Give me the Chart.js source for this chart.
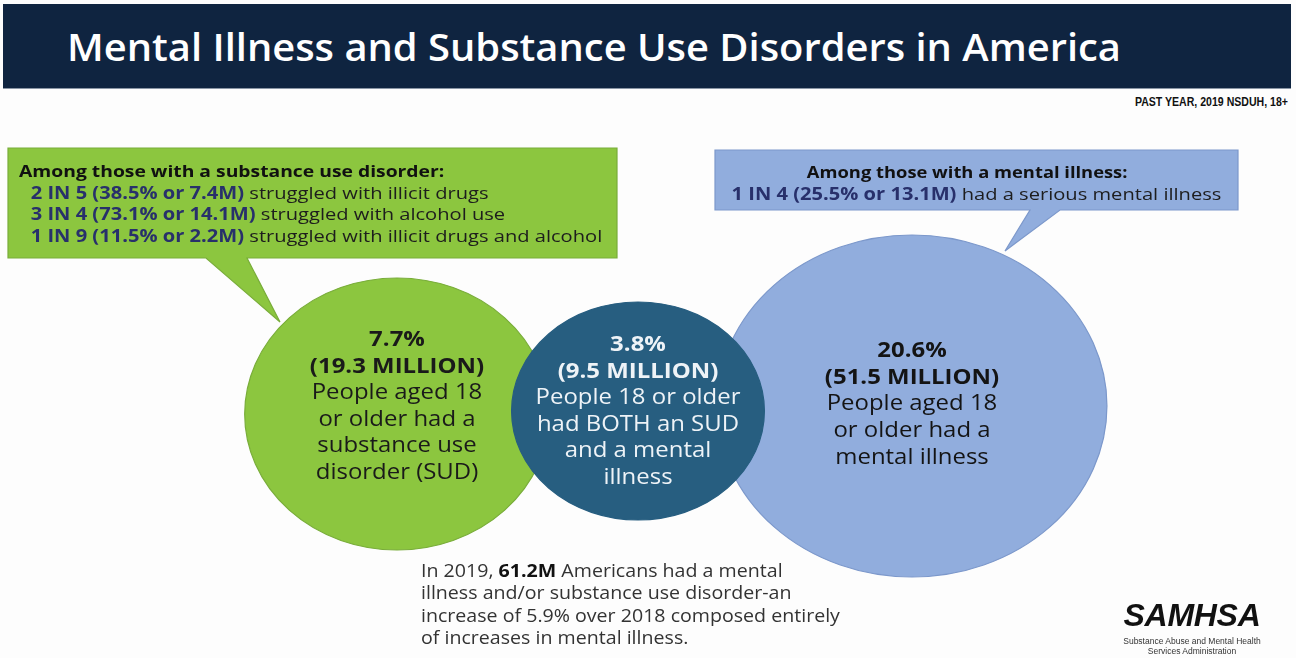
<!DOCTYPE html>
<html>
<head>
<meta charset="utf-8">
<title>Mental Illness and Substance Use Disorders in America</title>
<script src="https://cdn.jsdelivr.net/npm/chart.js@4"></script>
<style>
  html, body { margin: 0; padding: 0; background: #fdfdfd; }
  body { width: 1296px; height: 658px; position: relative; overflow: hidden; font-family: "Open Sans", "Noto Sans", sans-serif; }
  #header { position: absolute; left: 3px; top: 4px; width: 1288px; height: 84px; background: #0f2440; border-bottom: 1px solid #8a96a6; }
  #header h1 { margin: 0; position: absolute; left: 64px; top: 19px; color: #fff; font-weight: 600; font-size: 37px; line-height: 48px;
               transform: scaleX(1.078); transform-origin: left center; white-space: nowrap; }
  #source { position: absolute; right: 8px; top: 95px; font-family: "Liberation Sans Narrow", "Liberation Sans", Arial, sans-serif; font-weight: 700; font-size: 12px; color: #111;
            transform: scaleX(0.88); transform-origin: right center; white-space: nowrap; }
  #shapes { position: absolute; left: 0; top: 0; }
  #vennChart { position: absolute; left: 0; top: 0; z-index: 1; }
  .box { position: absolute; z-index: 2; font-size: 17.2px; line-height: 21.5px; color: #1d1d1d; white-space: nowrap; }
  .box .head { font-weight: 700; color: #111; font-size: 16.5px; }
  .box .stat { font-weight: 700; color: #28306b; }
  #sudBox { left: 19px; top: 160px; transform: scaleX(1.17); transform-origin: left top; }
  #sudBox .line { padding-left: 10px; }
  #miBox { left: 715px; top: 161px; width: 523px; text-align: center; transform: scaleX(1.17); transform-origin: 50% 0; }
  #miBox .head { transform: translateX(-8px) scaleX(0.95); }
  #note { position: absolute; z-index: 2; left: 421px; top: 559px; font-size: 17.5px; line-height: 22.4px; color: #333; white-space: nowrap;
          transform: scaleX(1.12); transform-origin: left top; }
  #note b { color: #111; }
  #logo { position: absolute; z-index: 2; left: 1112px; top: 600px; width: 160px; text-align: center; }
  #logo .name { font-family: "Liberation Sans", Arial, sans-serif; font-weight: 700; font-style: italic; font-size: 32px; line-height: 30px; color: #111; letter-spacing: -0.3px; }
  #logo .sub { margin-top: 6px; font-family: "Liberation Sans Narrow", "Liberation Sans", Arial, sans-serif; font-size: 8.5px; line-height: 10px; color: #333; }
</style>
</head>
<body>
<div id="header"><h1>Mental Illness and Substance Use Disorders in America</h1></div>
<div id="source">PAST YEAR, 2019 NSDUH, 18+</div>

<!-- callout shapes: box and pointer as one outline -->
<svg id="shapes" width="1296" height="658">
  <path d="M8,148 H617 V258 H247 L280,322 L206,258 H8 Z" fill="#8cc63f" stroke="#79ad3a" stroke-width="1.2"/>
  <path d="M715,150 H1238 V210 H1060 L1005,251 L1030,210 H715 Z" fill="#91addd" stroke="#7c98cb" stroke-width="1.2"/>
</svg>

<div class="box" id="sudBox"></div>
<div class="box" id="miBox"></div>

<canvas id="vennChart" width="1296" height="658"></canvas>

<div id="note">In 2019, <b>61.2M</b> Americans had a mental<br>illness and/or substance use disorder-an<br>increase of 5.9% over 2018 composed entirely<br>of increases in mental illness.</div>

<div id="logo">
  <div class="name">SAMHSA</div>
  <div class="sub">Substance Abuse and Mental Health<br>Services Administration</div>
</div>

<script>
// ---- data ----
const groups = ['Substance use disorder', 'Both SUD and mental illness', 'Mental illness'];
const sharePct = [7.7, 3.8, 20.6];          // % of adults 18+
const millions = [19.3, 9.5, 51.5];         // people, millions
const groupText = [
  ['People aged 18', 'or older had a', 'substance use', 'disorder (SUD)'],
  ['People 18 or older', 'had BOTH an SUD', 'and a mental', 'illness'],
  ['People aged 18', 'or older had a', 'mental illness']
];

// among those with a substance use disorder
const sudRatio = ['2 IN 5', '3 IN 4', '1 IN 9'];
const sudPct = [38.5, 73.1, 11.5];
const sudM = [7.4, 14.1, 2.2];
const sudWhat = ['struggled with illicit drugs', 'struggled with alcohol use', 'struggled with illicit drugs and alcohol'];

// among those with a mental illness
const miRatio = ['1 IN 4'];
const miPct = [25.5];
const miM = [13.1];
const miWhat = ['had a serious mental illness'];

// ---- layout (page units) ----
const circleX = [397, 638, 912];
const circleY = [414, 411, 406];
const circleR = [136, 109, 171];
const circleAspect = [1.12, 1.16, 1.14];
const circleFill = ['#8cc63f', '#275e80', '#91addd'];
const circleStroke = ['#79ad3a', '#275e80', '#7c98cb'];
const textColor = ['#1a1a1a', '#eef3f7', '#141414'];
const textShift = [-7.5, 0.5, -1.5];
const textStretch = 1.14;
const drawOrder = [0, 2, 1];

// callout text
document.getElementById('sudBox').innerHTML =
  '<div class="head">Among those with a substance use disorder:</div>' +
  sudRatio.map((r, i) =>
    `<div class="line"><span class="stat">${r} (${sudPct[i]}% or ${sudM[i]}M)</span> ${sudWhat[i]}</div>`
  ).join('');

document.getElementById('miBox').innerHTML =
  '<div class="head">Among those with a mental illness:</div>' +
  miRatio.map((r, i) =>
    `<div class="line"><span class="stat">${r} (${miPct[i]}% or ${miM[i]}M)</span> ${miWhat[i]}</div>`
  ).join('');

// draws bubbles as ellipses, then the labels inside them
const ellipsePlugin = {
  id: 'ellipses',
  beforeDatasetDraw() { return false; },
  afterDatasetsDraw(chart) {
    const ctx = chart.ctx;
    const meta = chart.getDatasetMeta(0);
    drawOrder.forEach(i => {
      const el = meta.data[i];
      const ry = el.options.radius || chart.data.datasets[0].data[i].r;
      const rx = ry * circleAspect[i];
      ctx.save();
      ctx.beginPath();
      ctx.ellipse(el.x, el.y, rx, ry, 0, 0, Math.PI * 2);
      ctx.fillStyle = circleFill[i];
      ctx.fill();
      ctx.lineWidth = 1.2;
      ctx.strokeStyle = circleStroke[i];
      ctx.stroke();
      ctx.restore();
    });

    drawOrder.forEach(i => {
      const el = meta.data[i];
      const lines = [
        { t: sharePct[i].toFixed(1) + '%', bold: true },
        { t: '(' + millions[i].toFixed(1) + ' MILLION)', bold: true }
      ].concat(groupText[i].map(t => ({ t, bold: false })));
      const lh = 26.6;
      const top = el.y - (lines.length - 1) * lh / 2 + textShift[i];
      ctx.save();
      ctx.translate(el.x, top);
      ctx.scale(textStretch, 1);
      ctx.textAlign = 'center';
      ctx.textBaseline = 'middle';
      ctx.fillStyle = textColor[i];
      lines.forEach((ln, k) => {
        ctx.font = (ln.bold ? '700 ' : '400 ') + '21px "Open Sans"';
        ctx.fillText(ln.t, 0, k * lh);
      });
      ctx.restore();
    });
  }
};

new Chart(document.getElementById('vennChart'), {
  type: 'bubble',
  data: {
    labels: groups,
    datasets: [{
      label: 'Adults 18+',
      data: circleX.map((x, i) => ({ x, y: circleY[i], r: circleR[i] })),
      backgroundColor: circleFill,
      borderColor: circleStroke
    }]
  },
  options: {
    responsive: false,
    animation: false,
    events: [],
    layout: { autoPadding: false, padding: 0 },
    scales: {
      x: { type: 'linear', min: 0, max: 1296, display: false },
      y: { type: 'linear', min: 0, max: 658, reverse: true, display: false }
    },
    plugins: {
      legend: { display: false },
      tooltip: { enabled: false }
    }
  },
  plugins: [ellipsePlugin]
});
</script>
</body>
</html>
